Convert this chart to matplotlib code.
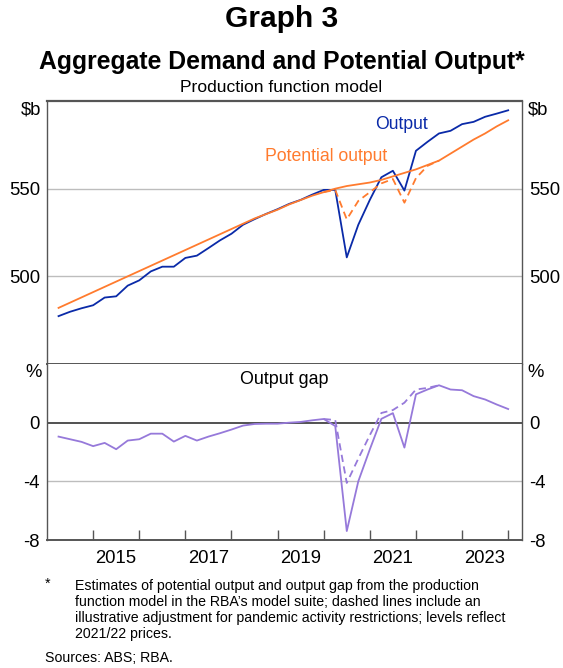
import numpy as np
import matplotlib
matplotlib.use("Agg")
import matplotlib.pyplot as plt

plt.rcParams['font.family'] = ['Liberation Sans', 'DejaVu Sans']

# quarterly, Mar 2014 to Dec 2023 (plotted at end of quarter)
quarters = 2014.25 + 0.25 * np.arange(40)

output = [477.3, 479.8, 481.8, 483.5, 487.9, 488.6, 494.7, 497.7, 502.8, 505.5,
          505.5, 510.5, 511.8, 516.1, 520.5, 524.3, 529.4, 532.6, 535.6, 538.3,
          541.3, 543.6, 546.6, 549.3, 549.3, 510.8, 529.4, 543.6, 556.5, 560.2,
          548.9, 571.6, 576.7, 581.5, 583.0, 586.8, 588.1, 591.0, 592.8, 594.7]

potential = [482.0, 485.0, 488.0, 491.0, 494.0, 497.0, 500.0, 503.0, 506.0, 509.0,
             512.0, 515.0, 518.0, 521.0, 524.0, 527.0, 530.0, 533.0, 535.5, 538.0,
             541.0, 543.5, 546.0, 548.0, 550.0, 551.5, 552.5, 553.5, 555.0, 557.0,
             559.0, 561.0, 563.5, 566.0, 570.0, 574.0, 578.0, 581.5, 585.5, 589.0]

# adjusted potential (dashed), Dec 2019 to Sep 2022
adj_idx = list(range(23, 34))
potential_adj = [548.0, 549.3, 532.5, 543.0, 548.0, 553.0, 555.5, 542.0, 556.0, 563.0, 566.0]

gap = [-0.95, -1.13, -1.31, -1.60, -1.38, -1.81, -1.22, -1.13, -0.75, -0.75,
       -1.29, -0.90, -1.22, -0.95, -0.72, -0.47, -0.20, -0.09, -0.07, -0.07,
       0.00, 0.05, 0.16, 0.25, -0.23, -7.39, -4.00, -1.82, 0.26, 0.65,
       -1.70, 1.93, 2.26, 2.55, 2.26, 2.21, 1.81, 1.58, 1.24, 0.93]

gap_adj = [0.25, 0.18, -4.11, -2.45, -0.85, 0.66, 0.86, 1.36, 2.26, 2.37, 2.55]

blue = '#0a2aa8'
orange = '#ff7b2e'
purple = '#9679da'
spine_col = '#555555'
fs = 13.3

fig = plt.figure(figsize=(5.63, 6.68), dpi=100)
ax1 = fig.add_axes([0.0835, 0.4551, 0.8437, 0.3937])
ax2 = fig.add_axes([0.0835, 0.1916, 0.8437, 0.2635])

xlim = (2014.0, 2024.3)

# top panel
ax1.plot(quarters, output, color=blue, lw=1.3, zorder=3)
ax1.plot(quarters, potential, color=orange, lw=1.3, zorder=4)
ax1.plot(quarters[adj_idx], potential_adj, color=orange, lw=1.3, ls=(0, (4, 2.5)), zorder=4)
ax1.set_xlim(*xlim)
ax1.set_ylim(450, 600)
ax1.set_yticks([500, 550])
ax1.set_yticklabels(['500', '550'])
for v in [500, 550]:
    ax1.axhline(v, color='#bdbdbd', lw=1.0, zorder=1)
ax1.set_xticks([])
ax1.text(2021.68, 586.8, 'Output', color=blue, fontsize=12.7, ha='center', va='center')
ax1.text(2020.05, 568.6, 'Potential output', color=orange, fontsize=12.7, ha='center', va='center')
ax1.text(-0.012, 1.0, r'\$b', transform=ax1.transAxes, ha='right', va='top', fontsize=fs)
ax1.text(1.012, 1.0, r'\$b', transform=ax1.transAxes, ha='left', va='top', fontsize=fs)

# bottom panel
ax2.plot(quarters, gap, color=purple, lw=1.3, zorder=3)
ax2.plot(quarters[adj_idx], gap_adj, color=purple, lw=1.3, ls=(0, (4, 2.5)), zorder=3)
ax2.axhline(0, color='#222222', lw=1.1, zorder=2)
ax2.axhline(-4, color='#bdbdbd', lw=1.0, zorder=1)
ax2.set_xlim(*xlim)
ax2.set_ylim(-8, 4)
ax2.set_yticks([-8, -4, 0])
ax2.set_yticklabels(['-8', '-4', '0'])
ax2.text(-0.012, 1.0, '%', transform=ax2.transAxes, ha='right', va='top', fontsize=fs)
ax2.text(1.012, 1.0, '%', transform=ax2.transAxes, ha='left', va='top', fontsize=fs)
ax2.text(2019.14, 2.96, 'Output gap', fontsize=12.9, ha='center', va='center')

years = np.arange(2015, 2025)
ax2.set_xticks(years)
ax2.set_xticklabels([])
ax2.set_xticks(np.arange(2015, 2024, 2) + 0.5, minor=True)
ax2.set_xticklabels([str(y) for y in range(2015, 2024, 2)], minor=True)
ax2.tick_params(axis='x', which='major', direction='in', length=7, width=1.0, color=spine_col)
ax2.tick_params(axis='x', which='minor', length=0, labelsize=fs, pad=7)

for ax in (ax1, ax2):
    ax.tick_params(axis='y', length=0, labelsize=fs, pad=5, labelright=True)
    for s in ax.spines.values():
        s.set_color(spine_col)
        s.set_linewidth(1.0)
ax1.spines['top'].set_linewidth(1.6)
ax1.spines['bottom'].set_linewidth(1.4)
ax2.spines['top'].set_visible(False)
ax2.spines['bottom'].set_linewidth(1.4)

fig.text(0.5, 1 - 19 / 668, 'Graph 3', ha='center', va='center', fontsize=21.5, fontweight='bold')
fig.text(0.5, 1 - 62 / 668, 'Aggregate Demand and Potential Output*', ha='center', va='center',
         fontsize=17.8, fontweight='bold')
fig.text(0.5, 1 - 87 / 668, 'Production function model', ha='center', va='center', fontsize=12.6)

fig.text(45 / 563, 1 - 584 / 668, '*', ha='left', va='center', fontsize=10.2)
notes = ("Estimates of potential output and output gap from the production\n"
         "function model in the RBA\u2019s model suite; dashed lines include an\n"
         "illustrative adjustment for pandemic activity restrictions; levels reflect\n"
         "2021/22 prices.")
fig.text(75 / 563, 1 - 579 / 668, notes, ha='left', va='top', fontsize=10.2, linespacing=1.18)
fig.text(45 / 563, 1 - 658 / 668, 'Sources: ABS; RBA.', ha='left', va='center', fontsize=10.2)

fig.savefig('out.png', dpi=100)
